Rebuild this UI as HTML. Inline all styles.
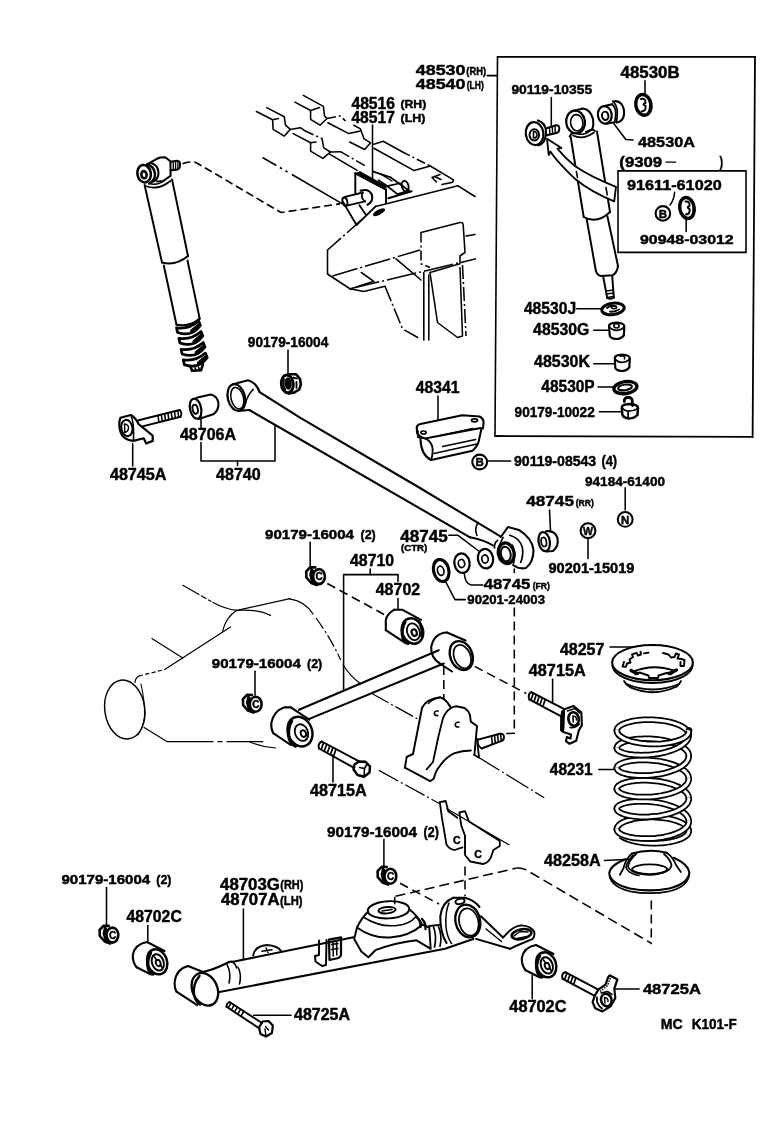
<!DOCTYPE html>
<html><head><meta charset="utf-8"><title>Rear suspension parts diagram</title>
<style>
html,body{margin:0;padding:0;background:#fff}
svg{display:block;filter:grayscale(1)}
text{font-family:"Liberation Sans",sans-serif;font-weight:bold;fill:#000;stroke:#000;stroke-width:0.45;stroke-linejoin:round}
.a{fill:none;stroke:#000;stroke-width:1.55;stroke-linecap:round;stroke-linejoin:round}
</style></head><body>
<svg width="776" height="1124" viewBox="0 0 776 1124">
<rect width="776" height="1124" fill="#fff"/>
<g class="a">
<text x="415.8" y="75.2" font-size="15.0" textLength="49.7" lengthAdjust="spacingAndGlyphs">48530</text>
<text x="466.3" y="74.9" font-size="10.4" textLength="19.7" lengthAdjust="spacingAndGlyphs">(RH)</text>
<text x="415.8" y="89.1" font-size="15.4" textLength="49.7" lengthAdjust="spacingAndGlyphs">48540</text>
<text x="466.8" y="88.7" font-size="10.4" textLength="16.9" lengthAdjust="spacingAndGlyphs">(LH)</text>
<text x="351.4" y="109.2" font-size="17.1" textLength="43.7" lengthAdjust="spacingAndGlyphs">48516</text>
<text x="400.5" y="108.4" font-size="11.7" textLength="25.7" lengthAdjust="spacingAndGlyphs">(RH)</text>
<text x="351.4" y="122.7" font-size="16.6" textLength="43.5" lengthAdjust="spacingAndGlyphs">48517</text>
<text x="400.5" y="121.9" font-size="11.7" textLength="25.0" lengthAdjust="spacingAndGlyphs">(LH)</text>
<text x="511.4" y="93.9" font-size="13.6" textLength="80.7" lengthAdjust="spacingAndGlyphs">90119-10355</text>
<text x="620.6" y="77.8" font-size="15.7" textLength="59.0" lengthAdjust="spacingAndGlyphs">48530B</text>
<text x="638.0" y="146.6" font-size="15.4" textLength="57.0" lengthAdjust="spacingAndGlyphs">48530A</text>
<text x="619.3" y="166.9" font-size="14.1" textLength="42.9" lengthAdjust="spacingAndGlyphs">(9309</text>
<line x1="666.0" y1="162.2" x2="675.7" y2="162.2" stroke-width="1.30"/>
<text x="719.6" y="166.9" font-size="14.1" textLength="3.6" lengthAdjust="spacingAndGlyphs">)</text>
<text x="627.0" y="189.9" font-size="14.3" textLength="94.7" lengthAdjust="spacingAndGlyphs">91611-61020</text>
<text x="640.0" y="244.0" font-size="13.4" textLength="93.7" lengthAdjust="spacingAndGlyphs">90948-03012</text>
<text x="523.9" y="313.9" font-size="17.3" textLength="52.2" lengthAdjust="spacingAndGlyphs">48530J</text>
<text x="533.1" y="334.9" font-size="17.0" textLength="56.2" lengthAdjust="spacingAndGlyphs">48530G</text>
<text x="534.1" y="367.0" font-size="17.1" textLength="55.9" lengthAdjust="spacingAndGlyphs">48530K</text>
<text x="541.3" y="391.8" font-size="17.3" textLength="53.4" lengthAdjust="spacingAndGlyphs">48530P</text>
<text x="514.6" y="416.5" font-size="14.3" textLength="80.1" lengthAdjust="spacingAndGlyphs">90179-10022</text>
<text x="415.8" y="393.2" font-size="17.4" textLength="43.8" lengthAdjust="spacingAndGlyphs">48341</text>
<text x="514.0" y="466.3" font-size="14.9" textLength="82.2" lengthAdjust="spacingAndGlyphs">90119-08543</text>
<text x="601.4" y="466.3" font-size="14.9" textLength="15.7" lengthAdjust="spacingAndGlyphs">(4)</text>
<text x="585.0" y="485.9" font-size="13.4" textLength="80.0" lengthAdjust="spacingAndGlyphs">94184-61400</text>
<text x="526.2" y="506.1" font-size="15.4" textLength="47.8" lengthAdjust="spacingAndGlyphs">48745</text>
<text x="575.7" y="506.0" font-size="9.2" textLength="18.1" lengthAdjust="spacingAndGlyphs">(RR)</text>
<text x="548.5" y="572.9" font-size="14.0" textLength="85.9" lengthAdjust="spacingAndGlyphs">90201-15019</text>
<text x="400.3" y="541.5" font-size="15.6" textLength="47.4" lengthAdjust="spacingAndGlyphs">48745</text>
<text x="401.0" y="550.6" font-size="8.5" textLength="26.3" lengthAdjust="spacingAndGlyphs">(CTR)</text>
<text x="483.8" y="589.1" font-size="15.4" textLength="46.4" lengthAdjust="spacingAndGlyphs">48745</text>
<text x="532.7" y="588.9" font-size="9.2" textLength="17.3" lengthAdjust="spacingAndGlyphs">(FR)</text>
<text x="467.3" y="603.6" font-size="13.0" textLength="77.7" lengthAdjust="spacingAndGlyphs">90201-24003</text>
<text x="247.8" y="347.4" font-size="14.1" textLength="80.5" lengthAdjust="spacingAndGlyphs">90179-16004</text>
<text x="179.9" y="439.8" font-size="17.0" textLength="56.2" lengthAdjust="spacingAndGlyphs">48706A</text>
<text x="109.9" y="479.8" font-size="16.9" textLength="56.6" lengthAdjust="spacingAndGlyphs">48745A</text>
<text x="216.0" y="480.4" font-size="16.9" textLength="44.8" lengthAdjust="spacingAndGlyphs">48740</text>
<text x="265.0" y="538.7" font-size="13.4" textLength="89.0" lengthAdjust="spacingAndGlyphs">90179-16004</text>
<text x="360.5" y="538.7" font-size="13.4" textLength="15.2" lengthAdjust="spacingAndGlyphs">(2)</text>
<text x="350.0" y="565.8" font-size="16.9" textLength="44.2" lengthAdjust="spacingAndGlyphs">48710</text>
<text x="375.7" y="595.2" font-size="16.9" textLength="44.5" lengthAdjust="spacingAndGlyphs">48702</text>
<text x="211.8" y="668.0" font-size="13.4" textLength="89.0" lengthAdjust="spacingAndGlyphs">90179-16004</text>
<text x="307.0" y="668.0" font-size="13.4" textLength="15.2" lengthAdjust="spacingAndGlyphs">(2)</text>
<text x="310.0" y="796.3" font-size="16.1" textLength="56.7" lengthAdjust="spacingAndGlyphs">48715A</text>
<text x="528.8" y="676.2" font-size="16.6" textLength="56.9" lengthAdjust="spacingAndGlyphs">48715A</text>
<text x="559.9" y="654.7" font-size="16.6" textLength="44.5" lengthAdjust="spacingAndGlyphs">48257</text>
<text x="549.8" y="774.6" font-size="17.0" textLength="42.9" lengthAdjust="spacingAndGlyphs">48231</text>
<text x="544.0" y="865.8" font-size="16.9" textLength="56.7" lengthAdjust="spacingAndGlyphs">48258A</text>
<text x="327.1" y="836.9" font-size="14.4" textLength="89.9" lengthAdjust="spacingAndGlyphs">90179-16004</text>
<text x="423.6" y="836.9" font-size="14.4" textLength="15.2" lengthAdjust="spacingAndGlyphs">(2)</text>
<text x="61.5" y="883.6" font-size="13.4" textLength="88.7" lengthAdjust="spacingAndGlyphs">90179-16004</text>
<text x="156.3" y="883.6" font-size="13.4" textLength="15.2" lengthAdjust="spacingAndGlyphs">(2)</text>
<text x="126.5" y="922.4" font-size="15.7" textLength="55.3" lengthAdjust="spacingAndGlyphs">48702C</text>
<text x="220.1" y="889.8" font-size="15.9" textLength="59.8" lengthAdjust="spacingAndGlyphs">48703G</text>
<text x="280.3" y="889.1" font-size="12.6" textLength="23.1" lengthAdjust="spacingAndGlyphs">(RH)</text>
<text x="220.9" y="905.3" font-size="15.7" textLength="58.7" lengthAdjust="spacingAndGlyphs">48707A</text>
<text x="280.1" y="904.8" font-size="12.6" textLength="22.4" lengthAdjust="spacingAndGlyphs">(LH)</text>
<text x="294.0" y="1019.8" font-size="15.7" textLength="56.0" lengthAdjust="spacingAndGlyphs">48725A</text>
<text x="509.3" y="1011.5" font-size="15.9" textLength="57.2" lengthAdjust="spacingAndGlyphs">48702C</text>
<text x="642.9" y="994.3" font-size="15.1" textLength="58.1" lengthAdjust="spacingAndGlyphs">48725A</text>
<text x="660.8" y="1029.1" font-size="15.4" textLength="22.0" lengthAdjust="spacingAndGlyphs">MC</text>
<text x="691.8" y="1029.1" font-size="15.4" textLength="45.0" lengthAdjust="spacingAndGlyphs">K101-F</text>
<path d="M497.2,56.8 L756,56.8 M494.6,436 L753.2,436.9" stroke-width="1.8" stroke-linecap="butt"/>
<path d="M497.5,56 L495,436.8" stroke-width="1.6" stroke-linecap="butt"/>
<path d="M755,56 L752.6,437.7" stroke-width="1.8" stroke-linecap="butt"/>
<line x1="487.1" y1="75.6" x2="497.5" y2="75.6"/>
<path d="M618,170.9 H746 V252.4 H618 Z" stroke-width="1.6" stroke-linejoin="miter"/>
<line x1="372.5" y1="125.0" x2="372.5" y2="180.0"/>
<line x1="551.3" y1="97.5" x2="551.3" y2="126.0"/>
<line x1="645.0" y1="80.8" x2="645.0" y2="94.2"/>
<path d="M613.4,123.0 L625.8,139.5 L633.0,140.0"/>
<path d="M674.6,192.3 Q674,200 670,205"/>
<line x1="686.2" y1="219.5" x2="686.2" y2="231.4"/>
<line x1="576.7" y1="308.7" x2="601.0" y2="308.7"/>
<line x1="593.8" y1="330.3" x2="608.2" y2="330.3"/>
<line x1="593.8" y1="363.7" x2="614.4" y2="363.7"/>
<line x1="598.0" y1="387.0" x2="613.4" y2="387.0"/>
<line x1="599.4" y1="411.8" x2="621.6" y2="411.8"/>
<line x1="438.0" y1="396.0" x2="438.0" y2="420.2"/>
<line x1="488.6" y1="461.0" x2="510.6" y2="461.0"/>
<line x1="625.2" y1="487.8" x2="625.2" y2="510.0"/>
<line x1="549.5" y1="510.0" x2="550.5" y2="530.7"/>
<line x1="588.0" y1="538.6" x2="588.0" y2="558.6"/>
<path d="M448.8,535.3 L458.0,535.3 L478.7,551.0"/>
<path d="M464.2,572.8 Q465,584 471,585 L482.8,585"/>
<path d="M445.3,581.0 L455.0,599.6 L465.3,599.6"/>
<line x1="288.0" y1="350.0" x2="288.0" y2="374.0"/>
<line x1="201.0" y1="412.5" x2="201.0" y2="427.5"/>
<path d="M201.0,442.5 L201.0,461.0 L275.0,461.0 L275.0,425.0"/>
<line x1="237.5" y1="461.0" x2="237.5" y2="465.5"/>
<line x1="132.7" y1="443.8" x2="132.7" y2="466.0"/>
<line x1="310.2" y1="542.3" x2="310.2" y2="568.0"/>
<line x1="370.2" y1="569.0" x2="370.2" y2="574.6"/>
<path d="M343.6,690.5 L343.6,574.6 L398.0,574.6 L398.0,581.4"/>
<line x1="398.0" y1="598.6" x2="398.0" y2="609.3"/>
<line x1="255.0" y1="671.3" x2="255.0" y2="695.3"/>
<line x1="333.0" y1="755.0" x2="333.0" y2="782.0"/>
<line x1="552.6" y1="679.3" x2="552.6" y2="702.5"/>
<line x1="610.0" y1="647.0" x2="634.0" y2="647.0"/>
<line x1="598.8" y1="769.5" x2="613.5" y2="769.5"/>
<line x1="604.4" y1="860.5" x2="628.9" y2="859.2"/>
<line x1="383.9" y1="839.6" x2="383.9" y2="865.4"/>
<line x1="106.5" y1="887.4" x2="106.5" y2="926.0"/>
<line x1="147.8" y1="925.5" x2="147.8" y2="941.7"/>
<line x1="243.4" y1="908.9" x2="243.4" y2="958.6"/>
<line x1="253.7" y1="1015.3" x2="291.0" y2="1015.3"/>
<line x1="532.2" y1="975.4" x2="532.2" y2="998.6"/>
<line x1="614.7" y1="989.0" x2="639.2" y2="989.0"/>
<ellipse cx="662.9" cy="213.4" rx="7.3" ry="7.3" stroke-width="2.08"/>
<text x="662.9" y="217.5" font-size="11.5" text-anchor="middle">B</text>
<ellipse cx="479.7" cy="462.0" rx="7.4" ry="7.4" stroke-width="2.08"/>
<text x="479.7" y="466.1" font-size="11.5" text-anchor="middle">B</text>
<ellipse cx="625.2" cy="519.4" rx="7.4" ry="7.4" stroke-width="2.08"/>
<text x="625.2" y="523.5" font-size="11.5" text-anchor="middle">N</text>
<ellipse cx="588.0" cy="530.7" rx="7.4" ry="7.4" stroke-width="2.08"/>
<text x="588.0" y="534.5" font-size="10.5" text-anchor="middle">W</text>
<ellipse cx="144.1" cy="173.7" rx="6.7" ry="8.8" stroke-width="2.60" transform="rotate(-10 144.1 173.7)"/>
<ellipse cx="144.0" cy="174.7" rx="2.6" ry="3.6" stroke-width="2.60" transform="rotate(-10 144.0 174.7)"/>
<path d="M147,164.5 Q154,166 155,174 Q155,181 149,183.5" stroke-width="2.34"/>
<path d="M151,163 Q158,165 158.5,172.5 Q158.5,179 153.5,181.5" stroke-width="2.08"/>
<path d="M147,164.5 L156,159.3 L160,157.5 L165.2,157.2 L170.4,161.3 L170.6,175.8 L163,181 L157,181.5" stroke-width="2.08"/>
<path d="M170.8,161.8 L177,160.8 Q180.3,161 180,165 Q180,169 177,169.6 L170.8,170.3" stroke-width="2.08"/>
<line x1="173.3" y1="161.4" x2="173.3" y2="170.0" stroke-width="1.30"/>
<line x1="175.6" y1="161.0" x2="175.6" y2="169.8" stroke-width="1.30"/>
<line x1="177.9" y1="161.0" x2="177.9" y2="169.4" stroke-width="1.30"/>
<path d="M145.6,186 Q158,191 170.4,181" stroke-width="1.82"/>
<path d="M149,183.5 Q158,186 165,180" stroke-width="1.56"/>
<line x1="144.6" y1="185.0" x2="162.0" y2="262.5" stroke-width="1.95"/>
<line x1="172.0" y1="179.4" x2="188.0" y2="256.0" stroke-width="1.95"/>
<path d="M162,262.5 Q176,266 188,256" stroke-width="1.95"/>
<line x1="163.8" y1="265.5" x2="176.5" y2="324.7" stroke-width="1.95"/>
<line x1="187.5" y1="260.5" x2="199.7" y2="318.6" stroke-width="1.95"/>
<path d="M176.5,324.7 Q190,327 199.7,318.6" stroke-width="2.08"/>
<path d="M176.5,327.8 Q189.1,329.6 198.6,321.0 L200.4,325.5 Q191.6,337.5 177.5,332.5 Z" stroke-width="2.73" fill="#fff"/>
<path d="M191.6,330.9 L198.7,324.9" stroke-width="3.12"/>
<path d="M178.9,338.3 Q191.5,340.1 201.0,331.5 L202.8,336.0 Q194.0,348.0 179.9,343.0 Z" stroke-width="2.73" fill="#fff"/>
<path d="M194.0,341.4 L201.1,335.4" stroke-width="3.12"/>
<path d="M181.1,349.3 Q193.7,351.1 203.2,342.5 L205.0,347.0 Q196.2,359.0 182.1,354.0 Z" stroke-width="2.73" fill="#fff"/>
<path d="M196.2,352.4 L203.3,346.4" stroke-width="3.12"/>
<path d="M183.3,359.9 Q195.9,361.7 205.4,353.1 L207.2,357.6 Q198.4,369.6 184.3,364.6 Z" stroke-width="2.73" fill="#fff"/>
<path d="M198.4,363.0 L205.5,357.0" stroke-width="3.12"/>
<path d="M190.5,366.5 L192,370.8 L201,370.3 L203,364" stroke-width="2.60"/>
<line x1="195.0" y1="367.5" x2="196.0" y2="370.5" stroke-width="1.69"/>
<line x1="198.5" y1="367.0" x2="199.5" y2="370.3" stroke-width="1.69"/>
<path d="M182.5,163.8 Q190,161 196,162.5 L281,212.5 L340,203.8" stroke-width="1.69" stroke-dasharray="8 4" stroke-linecap="butt"/>
<path d="M303.3,95.4 L323.4,106.4 L324.5,116.0 L327.0,118.5"/>
<path d="M294.9,102.1 L310.6,110.5 L319.5,107.6"/>
<path d="M310.6,110.5 L310.6,119.3 L320.0,125.2 L327.0,118.5"/>
<path d="M327.0,118.5 L340.4,116.0 L345.5,121.0" stroke-dasharray="9 3 2 3" stroke-linecap="butt"/>
<path d="M327.9,122.7 L348.8,133.6 L360.5,131.0"/>
<path d="M353.8,125.2 L360.5,128.9 L363.9,138.6 L370.6,142.8 L364.7,149.5 L349.7,142.0"/>
<path d="M266.7,107.6 L284.3,116.8 L285.5,125.2 L290.2,129.4"/>
<path d="M256.4,111.5 L272.6,119.8 L278.5,118.5"/>
<path d="M272.6,119.8 L273.1,129.4 L284.3,136.1 L290.2,129.4"/>
<path d="M290.2,129.4 L300.3,127.7 L305.3,131.0"/>
<path d="M305.3,131.0 L322.0,138.6" stroke-dasharray="9 3 2 3" stroke-linecap="butt"/>
<path d="M322.0,138.6 L323.7,147.8 L330.4,152.0 L340.5,151.7"/>
<path d="M340.5,151.7 L367.3,167.0" stroke-dasharray="10 3 2 3" stroke-linecap="butt"/>
<path d="M293.2,133.6 L310.6,142.8 L316.0,142.0"/>
<path d="M310.6,142.8 L310.6,151.2 L322.9,158.4 L330.4,152.0"/>
<line x1="328.7" y1="153.7" x2="357.2" y2="170.4"/>
<line x1="262.5" y1="157.5" x2="342.5" y2="203.8" stroke-dasharray="16 4 2.5 4 2.5 5 100" stroke-linecap="butt"/>
<path d="M373.9,144.3 L383.2,141.2 L401.7,151.5"/>
<line x1="401.7" y1="151.5" x2="430.3" y2="166.0" stroke-dasharray="9 3 2 3" stroke-linecap="butt"/>
<path d="M430.3,166.0 L453.5,179.9 L452.7,182.2 L441.9,184.5"/>
<path d="M373.9,148.2 L414.1,170.6 L430.3,166.0"/>
<path d="M440.0,174.5 L432.0,177.5 L436.5,182.0" stroke-width="1.56"/>
<line x1="434.5" y1="176.5" x2="441.0" y2="179.5" stroke-width="1.56"/>
<path d="M355.3,173.3 L386,189.6 L386,203" stroke-width="1.95"/>
<path d="M355.3,173.3 L355.3,193" stroke-width="1.95"/>
<path d="M355.5,173.5 L385.8,189.6 L385.8,186.4 L360,171.8 Z" stroke-width="1.30" fill="#000"/>
<path d="M344.9,196.9 L362.8,192.5 M346.6,205.6 L365.2,201.4" stroke-width="1.95"/>
<ellipse cx="344.9" cy="201.6" rx="2.4" ry="4.2" stroke-width="1.95" transform="rotate(-12 344.9 201.6)"/>
<path d="M360.5,190.7 Q369,188 372,195 Q373.5,202 367.5,204.7" stroke-width="2.08"/>
<path d="M362.8,192.5 Q360,198 365.2,201.4" stroke-width="1.69"/>
<path d="M373.3,171.6 L390.7,177.4 L409.2,190.7 L397.6,194.2 L387.2,186.1 L378.5,180.3" stroke-width="1.82"/>
<path d="M387.2,186.1 L400.0,183.2" stroke-width="1.69"/>
<path d="M388.4,198.3 L411.6,191.3" stroke-width="2.08"/>
<ellipse cx="405.2" cy="186.1" rx="3.3" ry="5.3" stroke-width="1.95" transform="rotate(-15 405.2 186.1)"/>
<line x1="380.5" y1="174.0" x2="392.0" y2="181.0" stroke-width="1.43"/>
<line x1="343.0" y1="202.0" x2="356.5" y2="225.0" stroke-width="1.82"/>
<line x1="359.4" y1="205.2" x2="365.7" y2="214.5" stroke-width="1.82"/>
<line x1="356.5" y1="225.0" x2="375.6" y2="206.4" stroke-width="1.82"/>
<ellipse cx="379.0" cy="212.2" rx="6.0" ry="1.9" stroke-width="1.30" fill="#000" transform="rotate(-28 379.0 212.2)"/>
<line x1="375.6" y1="206.4" x2="458.0" y2="185.8"/>
<line x1="458.0" y1="185.8" x2="475.0" y2="196.5"/>
<line x1="362.0" y1="219.5" x2="327.5" y2="250.0" stroke-dasharray="20 3 2 3" stroke-linecap="butt"/>
<line x1="327.5" y1="250.0" x2="327.5" y2="274.0"/>
<line x1="327.5" y1="274.0" x2="351.0" y2="289.5"/>
<line x1="350.0" y1="288.8" x2="476.0" y2="258.8" stroke-dasharray="30 3 2 3" stroke-linecap="butt"/>
<line x1="332.5" y1="276.0" x2="420.0" y2="250.0" stroke-dasharray="26 3 2 3" stroke-linecap="butt"/>
<path d="M361.3,272.5 L373.8,281.3 L356.3,287.0"/>
<path d="M350.0,288.8 L363.8,291.5 L385.0,286.3"/>
<path d="M385.0,286.3 L402.5,328.8 L420.0,338.8" stroke-dasharray="16 3 2 3" stroke-linecap="butt"/>
<path d="M421,232.5 L460,222.5 Q463,222 463.2,225 L465,252.5 L460,256 L460,263.8 L430,272.5"/>
<path d="M421,232.5 L421,263.8 L430,267.5" stroke-dasharray="10 3 2 3" stroke-linecap="butt"/>
<line x1="466.0" y1="236.0" x2="475.0" y2="234.5"/>
<path d="M430.0,272.5 L437.5,322.5 L457.5,337.5 L462.5,336.0 L460.0,267.5"/>
<line x1="423.8" y1="272.5" x2="423.8" y2="340.0"/>
<line x1="428.8" y1="275.0" x2="428.8" y2="340.0"/>
<line x1="462.5" y1="265.0" x2="466.0" y2="336.0" stroke-dasharray="14 3 2 3" stroke-linecap="butt"/>
<line x1="396.0" y1="258.8" x2="421.0" y2="280.0"/>
<ellipse cx="534.6" cy="133.6" rx="8.8" ry="11.5" stroke-width="2.21" transform="rotate(-8 534.6 133.6)"/>
<path d="M538,120.5 Q546.5,123 546,133 Q545.5,143.5 538.5,145.3" stroke-width="2.21"/>
<ellipse cx="534.3" cy="134.8" rx="4.8" ry="5.6" stroke-width="1.95"/>
<path d="M533.5,131.5 L533.5,138 M533.5,131.5 Q537.5,132 537,135.5 Q536.5,138 533.5,138" stroke-width="1.56"/>
<path d="M546.5,128.3 L556,125.3 Q559.5,125 559.3,128.8 Q559.3,132.3 556.5,133 L546.8,135.3" stroke-width="1.95"/>
<line x1="549.5" y1="127.4" x2="549.8" y2="134.6" stroke-width="1.43"/>
<line x1="552.3" y1="126.5" x2="552.6" y2="134.0" stroke-width="1.43"/>
<line x1="555.0" y1="125.8" x2="555.3" y2="133.3" stroke-width="1.43"/>
<ellipse cx="575.6" cy="122.0" rx="9.4" ry="11.4" stroke-width="2.21" transform="rotate(-8 575.6 122.0)"/>
<ellipse cx="576.8" cy="122.8" rx="6.2" ry="8.2" stroke-width="1.69" transform="rotate(-8 576.8 122.8)"/>
<path d="M574,110.7 L583,108.5 Q590.5,109.5 593,119 Q594,126 592,129.5 L586,132" stroke-width="2.08"/>
<path d="M569.6,136.5 Q571,133.5 573,133 M595,131 Q594,129.8 592,129.5" stroke-width="1.82"/>
<path d="M573,135.5 Q583,140.5 594,132.5" stroke-width="1.69"/>
<path d="M577,133.5 Q584,136 590,131" stroke-width="1.56"/>
<line x1="570.7" y1="137.0" x2="583.7" y2="217.0" stroke-width="1.95"/>
<line x1="597.0" y1="131.5" x2="610.0" y2="212.0" stroke-width="1.95"/>
<path d="M583.7,217 Q597,224.5 610,212" stroke-width="1.95"/>
<line x1="586.6" y1="218.6" x2="595.9" y2="271.0" stroke-width="1.95"/>
<line x1="607.4" y1="216.2" x2="618.0" y2="266.0" stroke-width="1.95"/>
<path d="M595.9,271 Q597,275 601,276 L612.4,275.3 Q617,273 618,266" stroke-width="1.95"/>
<path d="M603.2,276.5 L607.2,298 M612.2,276 L613.8,297.5" stroke-width="1.95"/>
<path d="M606,291 L613.5,290 M606.5,294 L613.7,293 M607,297.5 L613.8,296.5" stroke-width="1.56"/>
<path d="M607.2,298 Q610.5,300 613.8,297.5" stroke-width="1.69"/>
<path d="M616,186.8 Q591,177 574.8,166 Q565,158 557.4,148.6 L561.5,148 L547,138.7 L548.7,155 L550.4,151.5 Q556,160.5 574.8,178.7 Q592,192.5 614.2,201.3 Z" stroke-width="1.82" fill="#fff"/>
<line x1="576.3" y1="171.5" x2="577.5" y2="177.5" stroke-width="1.56"/>
<line x1="606.0" y1="187.5" x2="607.3" y2="195.0" stroke-width="1.56"/>
<ellipse cx="604.8" cy="114.9" rx="6.9" ry="8.8" stroke-width="2.21" transform="rotate(-8 604.8 114.9)"/>
<ellipse cx="605.2" cy="115.8" rx="3.2" ry="4.2" stroke-width="1.95" transform="rotate(-8 605.2 115.8)"/>
<path d="M603.5,106.2 L612,104.2 M606,123.7 L614.5,122.3" stroke-width="1.95"/>
<path d="M612,104.2 Q616,108 615.8,114 Q615.5,119.5 614.5,122.3" stroke-width="1.82"/>
<path d="M613,101.5 Q618,100 621.5,104 Q625.5,110 623.5,117 Q621.5,122 616.5,122.5" stroke-width="2.08"/>
<path d="M613,101.5 Q617.5,106 617.3,113 Q617,119.5 616.5,122.5" stroke-width="1.69"/>
<ellipse cx="643.4" cy="104.9" rx="7.6" ry="10.4" stroke-width="3.38" transform="rotate(-10 643.4 104.9)"/>
<path d="M641,99 Q646,98 645.5,103 Q641.5,104.5 645.5,106 Q646.5,111 641.5,111.5" stroke-width="1.95"/>
<path d="M648,97 Q651.5,104 648.5,113" stroke-width="1.69"/>
<ellipse cx="687.0" cy="208.0" rx="7.2" ry="10.6" stroke-width="3.38" transform="rotate(-10 687.0 208.0)"/>
<path d="M685.5,201.5 Q690,201 689.5,206 Q686,207.5 689.5,209 Q690.5,214 686,214.5" stroke-width="1.95"/>
<path d="M691.8,200.5 Q695,207.5 692,216" stroke-width="1.69"/>
<ellipse cx="613.0" cy="308.9" rx="11.3" ry="5.7" stroke-width="2.99" transform="rotate(-8 613.0 308.9)"/>
<path d="M607,308 Q611,304.5 616,306.5 M610,311.5 Q614,312.5 619,309.5" stroke-width="1.82"/>
<ellipse cx="614.0" cy="307.3" rx="2.5" ry="1.4" stroke-width="1.56"/>
<path d="M609,326.5 Q608.5,323 616.5,322.7 Q624.3,323 624.3,326.5 L623.8,335.5 Q621,339 616,339 Q611,338.5 609.8,336 Z" stroke-width="2.21"/>
<path d="M609,326.5 Q612,330.5 616.8,330.3 Q622,330 624.3,326.5" stroke-width="1.69"/>
<ellipse cx="616.5" cy="325.8" rx="2.6" ry="2.2" stroke-width="1.69"/>
<path d="M614.8,358.5 Q614.5,355 622,354.7 Q629.8,355 629.8,358.5 L629.3,367.5 Q626.5,371 621.5,371 Q616.5,370.5 615.3,368 Z" stroke-width="2.21"/>
<path d="M614.8,358.5 Q617.5,362.5 622.3,362.3 Q627.5,362 629.8,358.5" stroke-width="1.69"/>
<path d="M620,356.2 L624.5,355.7 L624.5,359" stroke-width="1.56"/>
<ellipse cx="625.4" cy="387.6" rx="11.6" ry="6.0" stroke-width="3.38" transform="rotate(-8 625.4 387.6)"/>
<ellipse cx="625.0" cy="387.4" rx="7.0" ry="2.8" stroke-width="1.95" transform="rotate(-8 625.0 387.4)"/>
<path d="M624.3,401.5 Q624,397.5 628.3,397.3 Q632.5,397.5 632.3,401.5 L632.5,405.5" stroke-width="2.86"/>
<path d="M621.8,407.5 Q622,404.2 629.5,404 Q637.8,404.3 638,408 L637.5,415 Q634,418.5 629,418.5 Q623.5,418 622.3,414.5 Z" stroke-width="2.47"/>
<path d="M621.8,407.5 Q625,411.5 630,411 Q635.5,410.5 638,408 M628,411.2 L628.2,418.3" stroke-width="1.69"/>
<path d="M289.5,374.2 L296,374.2 L300,379 L300.8,384.5 L299.3,389.5 L294,392.6 L288.5,393.4" stroke-width="2.60" fill="#fff"/>
<path d="M293.5,377.5 L297,378.5 M296.5,382 L296.5,388" stroke-width="1.82"/>
<ellipse cx="287.3" cy="383.9" rx="6.0" ry="8.9" stroke-width="2.86" fill="#fff" transform="rotate(-6 287.3 383.9)"/>
<ellipse cx="288.1" cy="383.6" rx="2.9" ry="5.6" stroke-width="1.30" fill="#000" transform="rotate(-6 288.1 383.6)"/>
<path d="M284,379 Q282.5,385 285.5,390" stroke-width="1.69"/>
<path d="M120.5,417.7 L130.8,415 Q136,418 138.5,424 L152.7,435.7 L152.7,440.9 L146.2,443.5 L143.7,438.3 L133.4,440.9 Q123,440 120.5,431.9 Q118,424 120.5,417.7 Z" stroke-width="2.21"/>
<ellipse cx="126.9" cy="428.0" rx="5.6" ry="8.2" stroke-width="2.08" transform="rotate(-10 126.9 428.0)"/>
<path d="M130.8,415 Q134.5,423 133.4,440.9" stroke-width="1.56"/>
<path d="M124.5,424 L124.8,432.5 M124.5,424 Q129,424.5 128.5,428.5 Q128,432 124.8,432.5" stroke-width="1.43"/>
<line x1="138.5" y1="420.3" x2="179.7" y2="410.0" stroke-width="1.95"/>
<line x1="141.5" y1="426.6" x2="180.6" y2="416.8" stroke-width="1.95"/>
<path d="M179.7,410 Q182.5,412.8 180.6,416.8" stroke-width="1.82"/>
<line x1="158.0" y1="415.4" x2="158.9" y2="422.0" stroke-width="1.56"/>
<line x1="161.3" y1="414.6" x2="162.2" y2="421.2" stroke-width="1.56"/>
<line x1="164.6" y1="413.8" x2="165.5" y2="420.4" stroke-width="1.56"/>
<line x1="167.9" y1="413.0" x2="168.8" y2="419.6" stroke-width="1.56"/>
<line x1="171.2" y1="412.2" x2="172.1" y2="418.8" stroke-width="1.56"/>
<line x1="174.5" y1="411.4" x2="175.4" y2="418.0" stroke-width="1.56"/>
<line x1="177.8" y1="410.5" x2="178.7" y2="417.1" stroke-width="1.56"/>
<ellipse cx="195.6" cy="408.7" rx="5.6" ry="10.2" stroke-width="2.21" transform="rotate(-12 195.6 408.7)"/>
<ellipse cx="195.2" cy="409.2" rx="2.6" ry="4.6" stroke-width="1.95" transform="rotate(-12 195.2 409.2)"/>
<path d="M196.5,397.8 L210.7,394.5 Q217.5,396 218.4,403 Q219,410.5 213.2,414.3 L199,419" stroke-width="2.08"/>
<ellipse cx="236.4" cy="397.6" rx="8.6" ry="13.6" stroke-width="2.21" transform="rotate(-14 236.4 397.6)"/>
<ellipse cx="237.3" cy="398.2" rx="6.2" ry="11.0" stroke-width="1.56" transform="rotate(-14 237.3 398.2)"/>
<path d="M233,384.3 L248,380.3 Q256,382.5 259.6,391.9" stroke-width="2.08"/>
<path d="M253.2,389.3 Q247,396 245.5,403.5" stroke-width="1.56"/>
<path d="M259.6,392.2 L300.0,417.6 L420.0,488.0 L500.8,536.6" stroke-width="2.08"/>
<line x1="249.3" y1="410.0" x2="470.0" y2="537.3" stroke-width="2.08"/>
<path d="M240.5,410.8 L249.3,410" stroke-width="1.95"/>
<path d="M470,537.3 Q484,540 493,545.5" stroke-width="1.95"/>
<path d="M478,522.5 Q474,529 477,535.5" stroke-width="1.56"/>
<path d="M500.8,537 L508,527 L518.9,529.9 Q532,538 533.5,550 Q533.5,562 526,568 Q519,569.5 513,565" stroke-width="2.08"/>
<path d="M509.8,535.3 Q520,538 522.5,548 Q523.5,556 520.7,562.3" stroke-width="1.69"/>
<path d="M497.5,540.5 Q494,543 494.5,548 M503,537.5 L499.5,545" stroke-width="1.69"/>
<ellipse cx="506.2" cy="553.3" rx="7.8" ry="10.4" stroke-width="3.25" transform="rotate(-12 506.2 553.3)"/>
<ellipse cx="505.8" cy="554.0" rx="4.8" ry="7.4" stroke-width="1.95" transform="rotate(-12 505.8 554.0)"/>
<path d="M512,545 Q516,552 513.5,563" stroke-width="1.95"/>
<ellipse cx="485.5" cy="558.7" rx="7.6" ry="9.8" stroke-width="2.21" transform="rotate(-10 485.5 558.7)"/>
<ellipse cx="485.0" cy="559.0" rx="3.2" ry="4.1" stroke-width="1.69" transform="rotate(-10 485.0 559.0)"/>
<ellipse cx="462.0" cy="563.2" rx="7.6" ry="9.8" stroke-width="2.21" transform="rotate(-10 462.0 563.2)"/>
<ellipse cx="461.5" cy="563.5" rx="3.2" ry="4.1" stroke-width="1.69" transform="rotate(-10 461.5 563.5)"/>
<ellipse cx="441.2" cy="570.5" rx="7.6" ry="11.2" stroke-width="3.12" transform="rotate(-14 441.2 570.5)"/>
<ellipse cx="440.7" cy="570.8" rx="3.2" ry="4.7" stroke-width="1.69" transform="rotate(-14 440.7 570.8)"/>
<path d="M546,531.3 Q555,530 557.5,538 Q559,546 553,551 L546.5,551.5" stroke-width="2.08"/>
<ellipse cx="544.2" cy="541.6" rx="5.6" ry="9.6" stroke-width="2.21" transform="rotate(-10 544.2 541.6)"/>
<ellipse cx="543.8" cy="542.0" rx="2.6" ry="4.6" stroke-width="1.69" transform="rotate(-10 543.8 542.0)"/>
<path d="M416.8,427 Q417.5,424.5 420.5,424 L462.2,415.3 L479.5,416.5 Q483.5,418.5 483.6,422.5 L483,428.5" stroke-width="2.08"/>
<path d="M416.8,427 L417,433.2 Q420,437.5 425,438.4 L480.7,428" stroke-width="2.08"/>
<path d="M420.5,439.4 Q421,455 431.2,460 L472.5,450.7 Q477.5,446 478.7,441.4 L481.5,428.5" stroke-width="2.08"/>
<path d="M425,438.4 Q436,443 431.2,460" stroke-width="1.82"/>
<line x1="440.5" y1="435.6" x2="472.5" y2="428.4" stroke-width="1.56"/>
<line x1="442.6" y1="446.6" x2="475.6" y2="439.4" stroke-width="1.56"/>
<line x1="434.0" y1="453.5" x2="477.0" y2="444.0" stroke-width="1.56"/>
<ellipse cx="423.5" cy="432.5" rx="2.6" ry="1.5" stroke-width="1.69"/>
<ellipse cx="474.5" cy="420.3" rx="3.0" ry="1.5" stroke-width="1.69"/>
<path d="M418,431 L418,437.5 L421.5,438" stroke-width="1.69"/>
<path d="M315.3,567.4 L310.3,567.2 L306.2,571.5 L306.4,577.5 L311.3,583.0 L316.8,585.0" stroke-width="2.60" fill="#fff"/>
<path d="M311.3,568.5 Q314.8,570.0 314.0,577.0 Q313.8,581.0 316.3,584.0 L311.8,582.0 L309.8,575.0 Z" stroke-width="1.30" fill="#000"/>
<ellipse cx="319.0" cy="576.6" rx="5.9" ry="7.5" stroke-width="2.60" fill="#fff"/>
<text x="319.2" y="580.3" font-size="10" text-anchor="middle">C</text>
<line x1="327.3" y1="583.5" x2="384.0" y2="614.4" stroke-width="1.69" stroke-dasharray="9 5" stroke-linecap="butt"/>
<path d="M252.0,695.0 L247.0,694.8 L242.9,699.1 L243.1,705.1 L248.0,710.6 L253.5,712.6" stroke-width="2.60" fill="#fff"/>
<path d="M248.0,696.1 Q251.5,697.6 250.7,704.6 Q250.5,708.6 253.0,711.6 L248.5,709.6 L246.5,702.6 Z" stroke-width="1.30" fill="#000"/>
<ellipse cx="255.7" cy="704.2" rx="5.9" ry="7.5" stroke-width="2.60" fill="#fff"/>
<text x="255.9" y="707.9" font-size="10" text-anchor="middle">C</text>
<path d="M394.3,609.7 L402.1,609.7 L421,619.8 M385.8,630.2 L405.9,643.3" stroke-width="2.08"/>
<path d="M394.3,609.7 Q387,614 385.8,620 L385.8,630.2" stroke-width="2.08"/>
<ellipse cx="412.5" cy="631.0" rx="10.4" ry="13.0" stroke-width="2.47" transform="rotate(-20 412.5 631.0)"/>
<path d="M405,622 Q400.5,630 403,638.5 Q404.5,642 408,643.5" stroke-width="3.12"/>
<ellipse cx="413.4" cy="631.8" rx="6.2" ry="8.6" stroke-width="1.82" transform="rotate(-20 413.4 631.8)"/>
<ellipse cx="414.2" cy="632.6" rx="2.5" ry="3.4" stroke-width="2.08" transform="rotate(-20 414.2 632.6)"/>
<path d="M419,621.5 Q423,628 421.5,636" stroke-width="2.86"/>
<line x1="299.0" y1="709.8" x2="438.7" y2="650.2" stroke-width="2.08"/>
<line x1="309.3" y1="718.9" x2="443.8" y2="663.5" stroke-width="2.08"/>
<path d="M290.8,707.4 L309.3,719.7 M273.2,733.1 L290.8,745" stroke-width="2.08"/>
<path d="M290.8,707.4 L284,707.4 Q273.5,711 271.3,723 Q270.8,729 273.2,733.1" stroke-width="2.08"/>
<ellipse cx="300.0" cy="731.6" rx="12.0" ry="15.2" stroke-width="2.47" transform="rotate(-22 300.0 731.6)"/>
<path d="M291.5,721 Q286.5,730 289.5,739.5 Q291.5,744 295.5,746" stroke-width="3.38"/>
<ellipse cx="301.5" cy="732.6" rx="6.4" ry="8.6" stroke-width="1.82" transform="rotate(-22 301.5 732.6)"/>
<ellipse cx="303.4" cy="733.6" rx="2.6" ry="3.4" stroke-width="1.95" transform="rotate(-22 303.4 733.6)"/>
<path d="M447,632.5 L465.5,640.5 M440.5,664 L452,671.5" stroke-width="2.08"/>
<path d="M447,632.5 Q434,633 431.2,647 Q430.5,658 440.5,664" stroke-width="2.08"/>
<ellipse cx="461.3" cy="655.6" rx="11.0" ry="15.0" stroke-width="2.34" transform="rotate(-22 461.3 655.6)"/>
<ellipse cx="462.3" cy="656.6" rx="8.2" ry="12.2" stroke-width="1.69" transform="rotate(-22 462.3 656.6)"/>
<line x1="321.7" y1="741.5" x2="358.7" y2="761.1" stroke-width="1.95"/>
<line x1="319.0" y1="748.5" x2="354.2" y2="767.9" stroke-width="1.95"/>
<path d="M321.7,741.5 Q317.5,743.5 319,748.5" stroke-width="1.95"/>
<line x1="323.6" y1="742.6" x2="321.4" y2="748.9" stroke-width="1.69"/>
<line x1="326.7" y1="744.2" x2="324.5" y2="750.5" stroke-width="1.69"/>
<line x1="329.8" y1="745.9" x2="327.6" y2="752.2" stroke-width="1.69"/>
<line x1="332.9" y1="747.6" x2="330.7" y2="753.9" stroke-width="1.69"/>
<line x1="336.0" y1="749.2" x2="333.8" y2="755.5" stroke-width="1.69"/>
<path d="M359,761.5 L365.5,761.8 L370,766.5 L369.5,772.5 L364,776.8 L357.5,775 L353.5,769.5 L354.5,764.5 Z" stroke-width="2.47"/>
<path d="M359.5,767.5 L364.5,768.5 L366.5,765 M364.5,768.5 L364,776.5" stroke-width="1.56"/>
<ellipse cx="124.8" cy="709.5" rx="20.0" ry="29.6" stroke-width="1.43" transform="rotate(-8 124.8 709.5)"/>
<path d="M141,684 Q145,702 144.5,716 Q143,728 138,735" stroke-width="1.10"/>
<path d="M135,682.4 Q135.5,677.5 139,676" stroke-width="1.23"/>
<line x1="139.0" y1="676.0" x2="164.7" y2="669.5" stroke-width="1.23" stroke-dasharray="4 2.5" stroke-linecap="butt"/>
<line x1="164.7" y1="669.5" x2="230.5" y2="627.0" stroke-width="1.23"/>
<line x1="151.9" y1="638.6" x2="182.8" y2="658.0" stroke-width="1.23"/>
<path d="M222.7,630.9 Q226,617 236.9,610.3 L290,598.7" stroke-width="1.23"/>
<line x1="182.8" y1="585.3" x2="199.0" y2="594.5" stroke-width="1.23"/>
<line x1="201.5" y1="596.0" x2="206.0" y2="598.5" stroke-width="1.23"/>
<line x1="208.5" y1="600.0" x2="211.0" y2="601.3" stroke-width="1.23"/>
<path d="M213,602.5 Q226,609.5 236.9,610.3 Q258,609 270.4,615.4" stroke-width="1.23"/>
<path d="M289.5,598.8 Q305,601 313,614" stroke-width="1.23"/>
<path d="M316,618 Q330,637 340.7,660" stroke-width="1.23" stroke-dasharray="13 3 2 3" stroke-linecap="butt"/>
<path d="M343,664.7 Q350,676 360.8,684" stroke-width="1.23"/>
<path d="M144.1,727.5 L167.3,741.7 L213,741.7" stroke-width="1.23"/>
<line x1="218.0" y1="741.7" x2="222.0" y2="741.7" stroke-width="1.23"/>
<line x1="227.0" y1="741.7" x2="262.7" y2="741.7" stroke-width="1.23"/>
<path d="M250,742 Q262,747 275.6,748" stroke-width="1.23"/>
<line x1="371.0" y1="693.0" x2="417.5" y2="718.9" stroke-width="1.23" stroke-dasharray="20 3 2 3" stroke-linecap="butt"/>
<line x1="378.9" y1="770.4" x2="439.3" y2="803.5" stroke-width="1.23" stroke-dasharray="22 3 2 3" stroke-linecap="butt"/>
<line x1="447.0" y1="808.7" x2="508.9" y2="844.7" stroke-width="1.23"/>
<line x1="477.3" y1="756.6" x2="544.3" y2="797.8" stroke-width="1.23" stroke-dasharray="26 3 2 3" stroke-linecap="butt"/>
<line x1="514.3" y1="569.0" x2="514.3" y2="572.5"/>
<line x1="514.3" y1="607.5" x2="514.3" y2="732.0" stroke-dasharray="9 5" stroke-linecap="butt"/>
<line x1="514.3" y1="733.2" x2="507.0" y2="733.6"/>
<line x1="443.8" y1="666.0" x2="443.8" y2="699.0" stroke-dasharray="9 5" stroke-linecap="butt"/>
<line x1="474.7" y1="666.4" x2="526.3" y2="693.5" stroke-dasharray="9 5" stroke-linecap="butt"/>
<path d="M404.9,767.6 L406.7,756.8 L413,754 L422,708 Q426,699 440,697.2 L443.7,699 Q448,702 451,708" stroke-width="1.95"/>
<path d="M451,708 Q453,706.5 456.4,706.2 L464.5,708 Q468.5,710.5 470,715.3 L470.8,721.6 L477,726 L474.4,755" stroke-width="1.95"/>
<path d="M451,708 Q445,712 442.8,718.9 L438.3,737 L433,762 L426.6,769.4" stroke-width="1.82"/>
<path d="M404.9,767.6 L430.2,781.2 L433.8,778.4 Q436,770 440,765.8 Q446,757 454.6,753.2 Q462,750.5 470.8,750.5" stroke-width="1.95"/>
<path d="M428.4,703.5 Q433,698.5 440,697.5" stroke-width="1.43"/>
<path d="M477,738.7 L479,757.7 L474.4,755" stroke-width="1.82"/>
<path d="M438.2,711 Q434.5,710.5 434.3,713.5 Q434.8,716 437.8,715.6" stroke-width="1.56"/>
<path d="M459,722.3 Q455.5,721.8 455.2,724.8 Q455.7,727.3 458.8,727" stroke-width="1.56"/>
<path d="M478,739.6 L500,733.8 Q504,733.5 504,737 Q504,740.5 501,741.2 L481.6,748.5" stroke-width="1.95"/>
<line x1="491.5" y1="735.8" x2="492.3" y2="743.8" stroke-width="1.56"/>
<line x1="494.5" y1="735.0" x2="495.3" y2="742.9" stroke-width="1.56"/>
<line x1="497.5" y1="734.3" x2="498.3" y2="742.0" stroke-width="1.56"/>
<line x1="500.5" y1="733.5" x2="501.3" y2="741.1" stroke-width="1.56"/>
<path d="M478,739.6 Q476.5,745 481.6,748.5" stroke-width="1.56"/>
<line x1="531.3" y1="692.2" x2="564.3" y2="709.2" stroke-width="1.95"/>
<line x1="529.3" y1="699.4" x2="561.2" y2="716.4" stroke-width="1.95"/>
<path d="M531.3,692.2 Q527.5,694 529.3,699.4" stroke-width="1.95"/>
<line x1="533.2" y1="693.2" x2="531.2" y2="699.4" stroke-width="1.69"/>
<line x1="536.2" y1="694.8" x2="534.2" y2="701.0" stroke-width="1.69"/>
<line x1="539.2" y1="696.3" x2="537.2" y2="702.5" stroke-width="1.69"/>
<line x1="542.2" y1="697.9" x2="540.2" y2="704.1" stroke-width="1.69"/>
<line x1="545.2" y1="699.4" x2="543.2" y2="705.6" stroke-width="1.69"/>
<path d="M564.3,709.2 L573.6,706.1 L581.3,712.3 L581.9,725.2 L578.8,730.4 L576.2,740.7 L569.5,743.8 L565.9,741.2 L566.9,737 L570.5,738.6 L571,734.5 L563.3,731.9 L561.2,730.4 L561.2,715.9 Z" stroke-width="2.08"/>
<path d="M563,712 L562.3,729.5" stroke-width="4.16"/>
<ellipse cx="573.6" cy="719.0" rx="5.2" ry="6.8" stroke-width="2.60" transform="rotate(-8 573.6 719.0)"/>
<path d="M567.5,711 L575,708.5 L579.5,713" stroke-width="1.56"/>
<path d="M573,716 L573.2,722 M573,716 Q577,716.5 576.5,720" stroke-width="1.56"/>
<path d="M570,727.5 Q575,728.5 579.5,724" stroke-width="1.56"/>
<ellipse cx="652.5" cy="662.6" rx="40.4" ry="17.6" stroke-width="2.08"/>
<path d="M612.3,665.5 Q614,676 634,681 Q652.5,685 671,681 Q691,676 692.7,665.5" stroke-width="1.82"/>
<path d="M624,681 Q626,685 630.5,687.4 M681,681 Q679.5,684.5 676.6,686.5" stroke-width="1.82"/>
<path d="M626.5,684 Q652.5,695 679,684" stroke-width="1.82"/>
<path d="M630.5,687.4 Q654,697.5 676.6,686.5" stroke-width="1.82"/>
<path d="M624,662 L622.5,666.5 L626,666.8 L627,663.5 L630.5,662.5 L629.5,659.5 L633,657 L632,654.5 L636.5,652.8 L638,655.5 L641,654.5 L640.5,651.8" stroke-width="1.95"/>
<path d="M644,653.3 L648.5,652.6" stroke-width="1.82"/>
<path d="M663,653 L668.5,654.5 L671,657.5 L674.5,657 L676,653.5 L679,654.5 L677.5,658.5 L681.5,659 L684.5,660 L684,666 L680.5,666 L680.5,662" stroke-width="1.95"/>
<path d="M632.6,671.8 Q653.2,663 675.2,671" stroke-width="1.95"/>
<path d="M632.6,671.8 L636,674.5 L639.5,672.5 L648.5,675.5 L649,678 L658,678 L658.5,675.5 L667.5,672.8 L670.5,674.5 L675.2,671" stroke-width="1.95"/>
<path d="M631,670.5 L637.5,673.5 M669,673.5 L676.5,670" stroke-width="3.38"/>
<path d="M616.9,731.3 L616.8,730.3 L617.0,729.3 L617.4,728.4 L618.0,727.5 L618.9,726.6 L620.0,725.7 L621.4,724.9 L622.9,724.1 L624.6,723.4 L626.6,722.7 L628.7,722.1 L630.9,721.5 L633.3,721.0 L635.9,720.6 L638.5,720.2 L641.2,720.0 L644.1,719.8 L646.9,719.7 L649.9,719.7 L652.8,719.8 L655.7,719.9 L658.7,720.2 L661.5,720.5 L664.4,720.9 L667.1,721.4 L669.7,722.0 L672.3,722.6 L674.7,723.4 L676.9,724.2 L679.0,725.0 L681.0,725.9 L682.7,726.9 L684.2,727.9 L685.6,729.0 L686.7,730.1 L687.6,731.2 L688.2,732.4 L688.6,733.6 L688.8,734.7 L688.7,736.1" stroke-width="6.5" stroke-linecap="butt"/>
<path d="M616.9,731.3 L616.8,730.3 L617.0,729.3 L617.4,728.4 L618.0,727.5 L618.9,726.6 L620.0,725.7 L621.4,724.9 L622.9,724.1 L624.6,723.4 L626.6,722.7 L628.7,722.1 L630.9,721.5 L633.3,721.0 L635.9,720.6 L638.5,720.2 L641.2,720.0 L644.1,719.8 L646.9,719.7 L649.9,719.7 L652.8,719.8 L655.7,719.9 L658.7,720.2 L661.5,720.5 L664.4,720.9 L667.1,721.4 L669.7,722.0 L672.3,722.6 L674.7,723.4 L676.9,724.2 L679.0,725.0 L681.0,725.9 L682.7,726.9 L684.2,727.9 L685.6,729.0 L686.7,730.1 L687.6,731.2 L688.2,732.4 L688.6,733.6 L688.8,734.7 L688.7,736.1" stroke="#fff" stroke-width="3.0" stroke-linecap="butt"/>
<path d="M616.9,748.6 L616.8,747.8 L617.0,747.0 L617.4,746.1 L618.0,745.3 L618.9,744.5 L620.0,743.7 L621.4,743.0 L622.9,742.3 L624.6,741.6 L626.6,741.0 L628.7,740.5 L630.9,740.0 L633.3,739.6 L635.9,739.3 L638.5,739.0 L641.2,738.9 L644.1,738.8 L646.9,738.8 L649.9,738.8 L652.8,739.0 L655.7,739.3 L658.7,739.6 L661.5,740.0 L664.4,740.5 L667.1,741.1 L669.7,741.8 L672.3,742.5 L674.7,743.3 L676.9,744.2 L679.0,745.2 L681.0,746.2 L682.7,747.3 L684.2,748.4 L685.6,749.5 L686.7,750.7 L687.6,751.9 L688.2,753.2 L688.6,754.4 L688.8,755.7 L688.7,757.1" stroke-width="6.5" stroke-linecap="butt"/>
<path d="M616.9,748.6 L616.8,747.8 L617.0,747.0 L617.4,746.1 L618.0,745.3 L618.9,744.5 L620.0,743.7 L621.4,743.0 L622.9,742.3 L624.6,741.6 L626.6,741.0 L628.7,740.5 L630.9,740.0 L633.3,739.6 L635.9,739.3 L638.5,739.0 L641.2,738.9 L644.1,738.8 L646.9,738.8 L649.9,738.8 L652.8,739.0 L655.7,739.3 L658.7,739.6 L661.5,740.0 L664.4,740.5 L667.1,741.1 L669.7,741.8 L672.3,742.5 L674.7,743.3 L676.9,744.2 L679.0,745.2 L681.0,746.2 L682.7,747.3 L684.2,748.4 L685.6,749.5 L686.7,750.7 L687.6,751.9 L688.2,753.2 L688.6,754.4 L688.8,755.7 L688.7,757.1" stroke="#fff" stroke-width="3.0" stroke-linecap="butt"/>
<path d="M616.9,768.6 L616.8,767.8 L617.0,767.0 L617.4,766.3 L618.0,765.5 L618.9,764.8 L620.0,764.1 L621.4,763.4 L622.9,762.8 L624.6,762.2 L626.6,761.7 L628.7,761.2 L630.9,760.8 L633.3,760.5 L635.9,760.2 L638.5,760.1 L641.2,760.0 L644.1,759.9 L646.9,760.0 L649.9,760.2 L652.8,760.4 L655.7,760.7 L658.7,761.1 L661.5,761.6 L664.4,762.2 L667.1,762.9 L669.7,763.6 L672.3,764.4 L674.7,765.3 L676.9,766.3 L679.0,767.3 L681.0,768.4 L682.7,769.5 L684.2,770.7 L685.6,771.9 L686.7,773.2 L687.6,774.5 L688.2,775.8 L688.6,777.1 L688.8,778.5 L688.7,779.8" stroke-width="6.5" stroke-linecap="butt"/>
<path d="M616.9,768.6 L616.8,767.8 L617.0,767.0 L617.4,766.3 L618.0,765.5 L618.9,764.8 L620.0,764.1 L621.4,763.4 L622.9,762.8 L624.6,762.2 L626.6,761.7 L628.7,761.2 L630.9,760.8 L633.3,760.5 L635.9,760.2 L638.5,760.1 L641.2,760.0 L644.1,759.9 L646.9,760.0 L649.9,760.2 L652.8,760.4 L655.7,760.7 L658.7,761.1 L661.5,761.6 L664.4,762.2 L667.1,762.9 L669.7,763.6 L672.3,764.4 L674.7,765.3 L676.9,766.3 L679.0,767.3 L681.0,768.4 L682.7,769.5 L684.2,770.7 L685.6,771.9 L686.7,773.2 L687.6,774.5 L688.2,775.8 L688.6,777.1 L688.8,778.5 L688.7,779.8" stroke="#fff" stroke-width="3.0" stroke-linecap="butt"/>
<path d="M616.9,789.3 L616.8,788.5 L617.0,787.7 L617.4,786.9 L618.0,786.1 L618.9,785.4 L620.0,784.7 L621.4,784.0 L622.9,783.3 L624.6,782.7 L626.6,782.2 L628.7,781.7 L630.9,781.3 L633.3,780.9 L635.9,780.6 L638.5,780.4 L641.2,780.3 L644.1,780.3 L646.9,780.3 L649.9,780.4 L652.8,780.7 L655.7,781.0 L658.7,781.3 L661.5,781.8 L664.4,782.4 L667.1,783.0 L669.7,783.7 L672.3,784.5 L674.7,785.4 L676.9,786.3 L679.0,787.3 L681.0,788.4 L682.7,789.5 L684.2,790.7 L685.6,791.9 L686.7,793.1 L687.6,794.4 L688.2,795.7 L688.6,797.0 L688.8,798.3 L688.7,799.6" stroke-width="6.5" stroke-linecap="butt"/>
<path d="M616.9,789.3 L616.8,788.5 L617.0,787.7 L617.4,786.9 L618.0,786.1 L618.9,785.4 L620.0,784.7 L621.4,784.0 L622.9,783.3 L624.6,782.7 L626.6,782.2 L628.7,781.7 L630.9,781.3 L633.3,780.9 L635.9,780.6 L638.5,780.4 L641.2,780.3 L644.1,780.3 L646.9,780.3 L649.9,780.4 L652.8,780.7 L655.7,781.0 L658.7,781.3 L661.5,781.8 L664.4,782.4 L667.1,783.0 L669.7,783.7 L672.3,784.5 L674.7,785.4 L676.9,786.3 L679.0,787.3 L681.0,788.4 L682.7,789.5 L684.2,790.7 L685.6,791.9 L686.7,793.1 L687.6,794.4 L688.2,795.7 L688.6,797.0 L688.8,798.3 L688.7,799.6" stroke="#fff" stroke-width="3.0" stroke-linecap="butt"/>
<path d="M616.9,809.1 L616.8,808.3 L617.0,807.6 L617.4,806.9 L618.0,806.2 L618.9,805.5 L620.0,804.9 L621.4,804.3 L622.9,803.7 L624.6,803.2 L626.6,802.7 L628.7,802.3 L630.9,802.0 L633.3,801.7 L635.9,801.5 L638.5,801.4 L641.2,801.3 L644.1,801.4 L646.9,801.5 L649.9,801.7 L652.8,802.0 L655.7,802.4 L658.7,802.8 L661.5,803.4 L664.4,804.0 L667.1,804.8 L669.7,805.6 L672.3,806.4 L674.7,807.4 L676.9,808.4 L679.0,809.5 L681.0,810.6 L682.7,811.8 L684.2,813.1 L685.6,814.3 L686.7,815.7 L687.6,817.0 L688.2,818.4 L688.6,819.8 L688.8,821.2 L688.7,822.5" stroke-width="6.5" stroke-linecap="butt"/>
<path d="M616.9,809.1 L616.8,808.3 L617.0,807.6 L617.4,806.9 L618.0,806.2 L618.9,805.5 L620.0,804.9 L621.4,804.3 L622.9,803.7 L624.6,803.2 L626.6,802.7 L628.7,802.3 L630.9,802.0 L633.3,801.7 L635.9,801.5 L638.5,801.4 L641.2,801.3 L644.1,801.4 L646.9,801.5 L649.9,801.7 L652.8,802.0 L655.7,802.4 L658.7,802.8 L661.5,803.4 L664.4,804.0 L667.1,804.8 L669.7,805.6 L672.3,806.4 L674.7,807.4 L676.9,808.4 L679.0,809.5 L681.0,810.6 L682.7,811.8 L684.2,813.1 L685.6,814.3 L686.7,815.7 L687.6,817.0 L688.2,818.4 L688.6,819.8 L688.8,821.2 L688.7,822.5" stroke="#fff" stroke-width="3.0" stroke-linecap="butt"/>
<path d="M616.9,830.0 L616.8,829.1 L617.0,828.0 L617.4,827.0 L618.0,826.1 L618.9,825.1 L620.0,824.1 L621.4,823.2 L622.9,822.4 L624.6,821.6 L626.6,820.8 L628.7,820.1 L630.9,819.5 L633.3,818.9 L635.9,818.4 L638.5,818.0 L641.2,817.7 L644.1,817.4 L646.9,817.2 L649.9,817.1 L652.8,817.1 L655.7,817.2 L658.7,817.4 L661.5,817.7 L664.4,818.0 L667.1,818.4 L669.7,818.9 L672.3,819.5 L674.7,820.2 L676.9,820.9 L679.0,821.7 L681.0,822.5 L682.7,823.4 L684.2,824.4 L685.6,825.4 L686.7,826.4 L687.6,827.5 L688.2,828.5 L688.6,829.6 L688.8,830.7 L688.7,831.8" stroke-width="6.5" stroke-linecap="butt"/>
<path d="M616.9,830.0 L616.8,829.1 L617.0,828.0 L617.4,827.0 L618.0,826.1 L618.9,825.1 L620.0,824.1 L621.4,823.2 L622.9,822.4 L624.6,821.6 L626.6,820.8 L628.7,820.1 L630.9,819.5 L633.3,818.9 L635.9,818.4 L638.5,818.0 L641.2,817.7 L644.1,817.4 L646.9,817.2 L649.9,817.1 L652.8,817.1 L655.7,817.2 L658.7,817.4 L661.5,817.7 L664.4,818.0 L667.1,818.4 L669.7,818.9 L672.3,819.5 L674.7,820.2 L676.9,820.9 L679.0,821.7 L681.0,822.5 L682.7,823.4 L684.2,824.4 L685.6,825.4 L686.7,826.4 L687.6,827.5 L688.2,828.5 L688.6,829.6 L688.8,830.7 L688.7,831.8" stroke="#fff" stroke-width="3.0" stroke-linecap="butt"/>
<path d="M688.7,830.1 L688.8,831.1 L688.7,831.9 L688.4,832.8 L688.0,833.6 L687.4,834.5 L686.7,835.3 L685.7,836.1 L684.7,836.8 L683.5,837.6 L682.1,838.3 L680.6,839.0 L679.0,839.6 L677.2,840.2 L675.4,840.7 L673.4,841.2 L671.3,841.7 L669.2,842.1 L666.9,842.4 L664.6,842.7 L662.3,843.0 L659.9,843.1 L657.5,843.2 L655.0,843.3 L652.6,843.3 L650.1,843.2 L647.7,843.1 L645.3,842.9 L642.9,842.7 L640.5,842.4 L638.2,842.0 L636.0,841.6 L633.9,841.1 L631.8,840.6 L629.9,840.0 L628.1,839.4 L626.3,838.7 L624.7,838.0 L623.2,837.3 L621.9,836.5 L620.7,835.7" stroke-width="6.5" stroke-linecap="butt"/>
<path d="M688.7,830.1 L688.8,831.1 L688.7,831.9 L688.4,832.8 L688.0,833.6 L687.4,834.5 L686.7,835.3 L685.7,836.1 L684.7,836.8 L683.5,837.6 L682.1,838.3 L680.6,839.0 L679.0,839.6 L677.2,840.2 L675.4,840.7 L673.4,841.2 L671.3,841.7 L669.2,842.1 L666.9,842.4 L664.6,842.7 L662.3,843.0 L659.9,843.1 L657.5,843.2 L655.0,843.3 L652.6,843.3 L650.1,843.2 L647.7,843.1 L645.3,842.9 L642.9,842.7 L640.5,842.4 L638.2,842.0 L636.0,841.6 L633.9,841.1 L631.8,840.6 L629.9,840.0 L628.1,839.4 L626.3,838.7 L624.7,838.0 L623.2,837.3 L621.9,836.5 L620.7,835.7" stroke="#fff" stroke-width="3.0" stroke-linecap="butt"/>
<path d="M688.7,820.4 L688.8,821.8 L688.6,823.1 L688.2,824.3 L687.6,825.5 L686.7,826.8 L685.6,827.9 L684.2,829.1 L682.7,830.2 L681.0,831.3 L679.0,832.3 L676.9,833.2 L674.7,834.1 L672.3,834.9 L669.7,835.7 L667.1,836.3 L664.4,836.9 L661.5,837.4 L658.7,837.8 L655.7,838.2 L652.8,838.4 L649.9,838.6 L646.9,838.6 L644.1,838.6 L641.2,838.5 L638.5,838.3 L635.9,838.1 L633.3,837.8 L630.9,837.3 L628.7,836.9 L626.6,836.3 L624.6,835.7 L622.9,835.1 L621.4,834.4 L620.0,833.6 L618.9,832.8 L618.0,832.0 L617.4,831.2 L617.0,830.4 L616.8,829.5 L616.9,828.5" stroke-width="6.5" stroke-linecap="butt"/>
<path d="M688.7,820.4 L688.8,821.8 L688.6,823.1 L688.2,824.3 L687.6,825.5 L686.7,826.8 L685.6,827.9 L684.2,829.1 L682.7,830.2 L681.0,831.3 L679.0,832.3 L676.9,833.2 L674.7,834.1 L672.3,834.9 L669.7,835.7 L667.1,836.3 L664.4,836.9 L661.5,837.4 L658.7,837.8 L655.7,838.2 L652.8,838.4 L649.9,838.6 L646.9,838.6 L644.1,838.6 L641.2,838.5 L638.5,838.3 L635.9,838.1 L633.3,837.8 L630.9,837.3 L628.7,836.9 L626.6,836.3 L624.6,835.7 L622.9,835.1 L621.4,834.4 L620.0,833.6 L618.9,832.8 L618.0,832.0 L617.4,831.2 L617.0,830.4 L616.8,829.5 L616.9,828.5" stroke="#fff" stroke-width="3.0" stroke-linecap="butt"/>
<path d="M688.7,797.6 L688.8,798.9 L688.6,800.2 L688.2,801.5 L687.6,802.8 L686.7,804.1 L685.6,805.3 L684.2,806.5 L682.7,807.7 L681.0,808.8 L679.0,809.9 L676.9,810.9 L674.7,811.8 L672.3,812.7 L669.7,813.5 L667.1,814.2 L664.4,814.8 L661.5,815.4 L658.7,815.9 L655.7,816.2 L652.8,816.5 L649.9,816.8 L646.9,816.9 L644.1,816.9 L641.2,816.9 L638.5,816.8 L635.9,816.6 L633.3,816.3 L630.9,815.9 L628.7,815.5 L626.6,815.0 L624.6,814.5 L622.9,813.9 L621.4,813.2 L620.0,812.5 L618.9,811.8 L618.0,811.1 L617.4,810.3 L617.0,809.5 L616.8,808.7 L616.9,807.9" stroke-width="6.5" stroke-linecap="butt"/>
<path d="M688.7,797.6 L688.8,798.9 L688.6,800.2 L688.2,801.5 L687.6,802.8 L686.7,804.1 L685.6,805.3 L684.2,806.5 L682.7,807.7 L681.0,808.8 L679.0,809.9 L676.9,810.9 L674.7,811.8 L672.3,812.7 L669.7,813.5 L667.1,814.2 L664.4,814.8 L661.5,815.4 L658.7,815.9 L655.7,816.2 L652.8,816.5 L649.9,816.8 L646.9,816.9 L644.1,816.9 L641.2,816.9 L638.5,816.8 L635.9,816.6 L633.3,816.3 L630.9,815.9 L628.7,815.5 L626.6,815.0 L624.6,814.5 L622.9,813.9 L621.4,813.2 L620.0,812.5 L618.9,811.8 L618.0,811.1 L617.4,810.3 L617.0,809.5 L616.8,808.7 L616.9,807.9" stroke="#fff" stroke-width="3.0" stroke-linecap="butt"/>
<path d="M688.7,777.8 L688.8,779.1 L688.6,780.4 L688.2,781.7 L687.6,783.0 L686.7,784.3 L685.6,785.5 L684.2,786.7 L682.7,787.9 L681.0,789.0 L679.0,790.1 L676.9,791.1 L674.7,792.0 L672.3,792.9 L669.7,793.7 L667.1,794.4 L664.4,795.0 L661.5,795.6 L658.7,796.1 L655.7,796.4 L652.8,796.8 L649.9,797.0 L646.9,797.1 L644.1,797.1 L641.2,797.1 L638.5,797.0 L635.9,796.8 L633.3,796.5 L630.9,796.1 L628.7,795.7 L626.6,795.2 L624.6,794.7 L622.9,794.1 L621.4,793.4 L620.0,792.7 L618.9,792.0 L618.0,791.3 L617.4,790.5 L617.0,789.7 L616.8,788.9 L616.9,788.1" stroke-width="6.5" stroke-linecap="butt"/>
<path d="M688.7,777.8 L688.8,779.1 L688.6,780.4 L688.2,781.7 L687.6,783.0 L686.7,784.3 L685.6,785.5 L684.2,786.7 L682.7,787.9 L681.0,789.0 L679.0,790.1 L676.9,791.1 L674.7,792.0 L672.3,792.9 L669.7,793.7 L667.1,794.4 L664.4,795.0 L661.5,795.6 L658.7,796.1 L655.7,796.4 L652.8,796.8 L649.9,797.0 L646.9,797.1 L644.1,797.1 L641.2,797.1 L638.5,797.0 L635.9,796.8 L633.3,796.5 L630.9,796.1 L628.7,795.7 L626.6,795.2 L624.6,794.7 L622.9,794.1 L621.4,793.4 L620.0,792.7 L618.9,792.0 L618.0,791.3 L617.4,790.5 L617.0,789.7 L616.8,788.9 L616.9,788.1" stroke="#fff" stroke-width="3.0" stroke-linecap="butt"/>
<path d="M688.7,755.0 L688.8,756.3 L688.6,757.7 L688.2,759.1 L687.6,760.4 L686.7,761.7 L685.6,763.0 L684.2,764.3 L682.7,765.5 L681.0,766.7 L679.0,767.8 L676.9,768.8 L674.7,769.8 L672.3,770.7 L669.7,771.6 L667.1,772.4 L664.4,773.1 L661.5,773.7 L658.7,774.2 L655.7,774.6 L652.8,775.0 L649.9,775.3 L646.9,775.5 L644.1,775.5 L641.2,775.6 L638.5,775.5 L635.9,775.3 L633.3,775.1 L630.9,774.8 L628.7,774.5 L626.6,774.0 L624.6,773.5 L622.9,773.0 L621.4,772.4 L620.0,771.8 L618.9,771.1 L618.0,770.4 L617.4,769.7 L617.0,768.9 L616.8,768.2 L616.9,767.4" stroke-width="6.5" stroke-linecap="butt"/>
<path d="M688.7,755.0 L688.8,756.3 L688.6,757.7 L688.2,759.1 L687.6,760.4 L686.7,761.7 L685.6,763.0 L684.2,764.3 L682.7,765.5 L681.0,766.7 L679.0,767.8 L676.9,768.8 L674.7,769.8 L672.3,770.7 L669.7,771.6 L667.1,772.4 L664.4,773.1 L661.5,773.7 L658.7,774.2 L655.7,774.6 L652.8,775.0 L649.9,775.3 L646.9,775.5 L644.1,775.5 L641.2,775.6 L638.5,775.5 L635.9,775.3 L633.3,775.1 L630.9,774.8 L628.7,774.5 L626.6,774.0 L624.6,773.5 L622.9,773.0 L621.4,772.4 L620.0,771.8 L618.9,771.1 L618.0,770.4 L617.4,769.7 L617.0,768.9 L616.8,768.2 L616.9,767.4" stroke="#fff" stroke-width="3.0" stroke-linecap="butt"/>
<path d="M688.7,734.1 L688.8,735.3 L688.6,736.7 L688.2,738.1 L687.6,739.5 L686.7,740.8 L685.6,742.2 L684.2,743.4 L682.7,744.7 L681.0,745.9 L679.0,747.0 L676.9,748.1 L674.7,749.1 L672.3,750.1 L669.7,750.9 L667.1,751.7 L664.4,752.5 L661.5,753.1 L658.7,753.7 L655.7,754.1 L652.8,754.5 L649.9,754.8 L646.9,755.0 L644.1,755.1 L641.2,755.2 L638.5,755.1 L635.9,755.0 L633.3,754.8 L630.9,754.5 L628.7,754.2 L626.6,753.8 L624.6,753.3 L622.9,752.8 L621.4,752.2 L620.0,751.6 L618.9,751.0 L618.0,750.3 L617.4,749.6 L617.0,748.9 L616.8,748.2 L616.9,747.3" stroke-width="6.5" stroke-linecap="butt"/>
<path d="M688.7,734.1 L688.8,735.3 L688.6,736.7 L688.2,738.1 L687.6,739.5 L686.7,740.8 L685.6,742.2 L684.2,743.4 L682.7,744.7 L681.0,745.9 L679.0,747.0 L676.9,748.1 L674.7,749.1 L672.3,750.1 L669.7,750.9 L667.1,751.7 L664.4,752.5 L661.5,753.1 L658.7,753.7 L655.7,754.1 L652.8,754.5 L649.9,754.8 L646.9,755.0 L644.1,755.1 L641.2,755.2 L638.5,755.1 L635.9,755.0 L633.3,754.8 L630.9,754.5 L628.7,754.2 L626.6,753.8 L624.6,753.3 L622.9,752.8 L621.4,752.2 L620.0,751.6 L618.9,751.0 L618.0,750.3 L617.4,749.6 L617.0,748.9 L616.8,748.2 L616.9,747.3" stroke="#fff" stroke-width="3.0" stroke-linecap="butt"/>
<path d="M688.7,730.7 L688.8,731.7 L688.6,732.8 L688.2,733.8 L687.6,734.8 L686.7,735.8 L685.6,736.8 L684.2,737.7 L682.7,738.6 L681.0,739.4 L679.0,740.2 L676.9,740.9 L674.7,741.5 L672.3,742.1 L669.7,742.6 L667.1,743.1 L664.4,743.4 L661.5,743.7 L658.7,743.9 L655.7,744.0 L652.8,744.0 L649.9,743.9 L646.9,743.8 L644.1,743.5 L641.2,743.2 L638.5,742.8 L635.9,742.3 L633.3,741.8 L630.9,741.1 L628.7,740.4 L626.6,739.6 L624.6,738.8 L622.9,737.9 L621.4,737.0 L620.0,736.0 L618.9,735.0 L618.0,734.0 L617.4,732.9 L617.0,731.8 L616.8,730.8 L616.9,729.8" stroke-width="6.5" stroke-linecap="butt"/>
<path d="M688.7,730.7 L688.8,731.7 L688.6,732.8 L688.2,733.8 L687.6,734.8 L686.7,735.8 L685.6,736.8 L684.2,737.7 L682.7,738.6 L681.0,739.4 L679.0,740.2 L676.9,740.9 L674.7,741.5 L672.3,742.1 L669.7,742.6 L667.1,743.1 L664.4,743.4 L661.5,743.7 L658.7,743.9 L655.7,744.0 L652.8,744.0 L649.9,743.9 L646.9,743.8 L644.1,743.5 L641.2,743.2 L638.5,742.8 L635.9,742.3 L633.3,741.8 L630.9,741.1 L628.7,740.4 L626.6,739.6 L624.6,738.8 L622.9,737.9 L621.4,737.0 L620.0,736.0 L618.9,735.0 L618.0,734.0 L617.4,732.9 L617.0,731.8 L616.8,730.8 L616.9,729.8" stroke="#fff" stroke-width="3.0" stroke-linecap="butt"/>
<path d="M686.5,729.5 Q689,726.5 691.5,729.5 L691,734" stroke-width="1.82"/>
<path d="M625.5,859.2 Q610,865 609.2,873.4 Q611,884 630,888.5 Q649.6,892.3 669,888.5 Q688,884 689.4,872.7 Q688,864 673.8,857.8" stroke-width="2.08"/>
<path d="M609.5,876 Q612,887 630,891.3 Q649.6,895 669,891.3 Q687,887 689.2,875.3" stroke-width="1.69"/>
<path d="M632,853.5 Q649.5,848.5 666.7,852.8" stroke-width="1.95"/>
<path d="M632,853.5 Q626,858 623.4,868.4 L619.9,874.8" stroke-width="1.82"/>
<path d="M666.7,852.8 Q673,857 676,865 L680.9,872" stroke-width="1.82"/>
<path d="M636.5,853.5 Q629,860 628,866.5 Q630,872 640,873.5" stroke-width="1.82"/>
<path d="M633,855 Q626.5,862 626,867.5 Q628,873.5 639,875.5" stroke-width="1.56"/>
<path d="M664,854 Q671,860 671.5,865.5 Q670,871 661.5,873" stroke-width="1.82"/>
<ellipse cx="649.6" cy="869.3" rx="17.5" ry="4.9" stroke-width="1.95"/>
<path d="M632.5,870.5 Q649.6,879.5 667,870.5" stroke-width="1.56"/>
<line x1="651.3" y1="900.5" x2="651.3" y2="944.3" stroke-dasharray="9 5" stroke-linecap="butt"/>
<path d="M395.5,896.3 L516.6,868.0" stroke-dasharray="10 5" stroke-linecap="butt"/>
<path d="M516.6,868 Q523,867.5 528,871 L650.8,943" stroke-dasharray="10 5" stroke-linecap="butt"/>
<line x1="394.7" y1="897.4" x2="394.7" y2="903.8"/>
<path d="M439.8,802.2 L445.7,801 L448.3,811.2 L457.3,817.7" stroke-width="1.82"/>
<path d="M439.8,802.2 L441.9,817.7 L446.5,844.7 Q450,849.5 454.7,850 L462.5,847.3" stroke-width="1.82"/>
<path d="M459.4,812.5 L465,811.2 L469,821.5 L499.8,840.9 L499.8,846 L493.4,850 L490.8,857.6 Q488,863 483,864 L470.2,861.5 L465,855 L465,835.7 L461.2,825.4 Z" stroke-width="1.82"/>
<line x1="465.0" y1="835.7" x2="465.0" y2="855.0" stroke-width="1.56" stroke-dasharray="3 2" stroke-linecap="butt"/>
<text x="456.8" y="844" font-size="10.5" text-anchor="middle" font-weight="normal">C</text>
<text x="478" y="857.8" font-size="10.5" text-anchor="middle" font-weight="normal">C</text>
<line x1="465.0" y1="866.6" x2="465.0" y2="896.3" stroke-dasharray="9 5" stroke-linecap="butt"/>
<path d="M386.7,867.0 L381.7,866.8 L377.6,871.1 L377.8,877.1 L382.7,882.6 L388.2,884.6" stroke-width="2.60" fill="#fff"/>
<path d="M382.7,868.1 Q386.2,869.6 385.4,876.6 Q385.2,880.6 387.7,883.6 L383.2,881.6 L381.2,874.6 Z" stroke-width="1.30" fill="#000"/>
<ellipse cx="390.4" cy="876.2" rx="5.9" ry="7.5" stroke-width="2.60" fill="#fff"/>
<text x="390.6" y="879.9" font-size="10" text-anchor="middle">C</text>
<path d="M108.7,925.9 L103.7,925.7 L99.6,930.0 L99.8,936.0 L104.7,941.5 L110.2,943.5" stroke-width="2.60" fill="#fff"/>
<path d="M104.7,927.0 Q108.2,928.5 107.4,935.5 Q107.2,939.5 109.7,942.5 L105.2,940.5 L103.2,933.5 Z" stroke-width="1.30" fill="#000"/>
<ellipse cx="112.4" cy="935.1" rx="5.9" ry="7.5" stroke-width="2.60" fill="#fff"/>
<text x="112.6" y="938.8" font-size="10" text-anchor="middle">C</text>
<line x1="400.0" y1="883.3" x2="439.0" y2="904.0" stroke-dasharray="9 5" stroke-linecap="butt"/>
<path d="M188.1,966 L203,972 M176.5,991.7 L197.2,1005.2" stroke-width="2.08"/>
<path d="M188.1,966 Q176,969 174.6,982.5 Q174.3,988 176.5,991.7" stroke-width="2.08"/>
<ellipse cx="204.9" cy="989.3" rx="12.4" ry="17.0" stroke-width="2.34" transform="rotate(-24 204.9 989.3)"/>
<path d="M199.5,976 Q192.5,984 194,995 Q195.5,1001.5 200,1004.5" stroke-width="2.47"/>
<path d="M203,972 Q214,969.5 226,963.5 Q229.5,961 233,961.8 L353.5,937.3" stroke-width="2.08"/>
<path d="M219.5,992 L445,948.8 L473.3,938.9" stroke-width="2.08"/>
<path d="M227,964.5 Q231.5,973 229,983 M238,967 Q242,975 239.5,984" stroke-width="1.56"/>
<path d="M232,961.8 Q236,964 236.5,968" stroke-width="1.56"/>
<path d="M253.2,955.5 Q254.5,946 267,945 Q277.5,945.6 281,951" stroke-width="1.95"/>
<path d="M262,951.3 L272,949.8 M266,948 L268,952.5" stroke-width="1.56"/>
<path d="M319,940.5 L319,955 L315,956 L315.5,961.5 L322,966 L326,965 L326.5,940" stroke-width="1.95"/>
<path d="M329,939.5 L329.5,960 L338.5,958 L341,955.5 L341,937.3 L330,939.3" stroke-width="2.21"/>
<path d="M333,942 L333.3,956 M336.5,941.5 L336.8,955" stroke-width="1.56"/>
<path d="M331.5,944.5 L338,943.5 M331.5,949.5 L338,948.5" stroke-width="1.43"/>
<ellipse cx="388.5" cy="909.8" rx="20.8" ry="8.6" stroke-width="1.95" transform="rotate(-3 388.5 909.8)"/>
<ellipse cx="387.0" cy="910.2" rx="8.6" ry="3.2" stroke-width="1.95" transform="rotate(-5 387.0 910.2)"/>
<path d="M382,911 L392,909.5" stroke-width="1.56"/>
<path d="M368.4,911.5 Q362,917 357,927.5 M409.5,909.5 Q417,915 422.2,924.7" stroke-width="1.95"/>
<path d="M357,927.5 Q372,938.5 390,937.5 Q410,936 422.2,924.7" stroke-width="1.95"/>
<path d="M364,917.5 Q380,927.5 397,925.5 Q410,924 415.5,917" stroke-width="1.56"/>
<path d="M357,927.5 L354.2,938.9 L361.3,951.6 L368.4,957.3 L375.4,950.2 Q396,942.5 416.6,940.3 L430.7,948.8 L429.3,927.5 L422.2,924.7" stroke-width="1.95"/>
<path d="M416.5,917 Q421,921 420.5,927 M422,919 Q426,923 425.5,929" stroke-width="2.34"/>
<path d="M429.3,926 L439.5,924.8" stroke-width="1.82"/>
<path d="M433.5,927 Q437,936 434.5,947 M438.5,926.5 Q442.5,936 440,946.3" stroke-width="1.69"/>
<path d="M453.4,897.8 Q442,902 440.3,916.2 Q440,932 446.5,943" stroke-width="2.08"/>
<path d="M453.4,897.8 L464.8,897.8 Q474,900 479.5,907" stroke-width="2.08"/>
<path d="M449,903 Q445,912 446,927 Q447,937 451.5,943.5" stroke-width="1.56"/>
<ellipse cx="467.8" cy="921.0" rx="12.2" ry="16.6" stroke-width="2.34" transform="rotate(-14 467.8 921.0)"/>
<ellipse cx="468.8" cy="922.0" rx="9.6" ry="13.8" stroke-width="1.69" transform="rotate(-14 468.8 922.0)"/>
<ellipse cx="460.0" cy="901.4" rx="4.6" ry="2.6" stroke-width="1.95" transform="rotate(-15 460.0 901.4)"/>
<line x1="480.9" y1="916.2" x2="503.0" y2="937.5" stroke-width="1.95"/>
<line x1="476.0" y1="938.9" x2="510.0" y2="948.8" stroke-width="1.95"/>
<line x1="486.0" y1="929.0" x2="501.5" y2="941.5" stroke-width="1.43"/>
<path d="M503,937.5 L510,930.4 Q515,926 521.5,925.4 Q531,926 534.2,931.8 Q535,936 532.8,938.9 L515.8,946 L510,948.8" stroke-width="1.95"/>
<ellipse cx="521.5" cy="934.2" rx="10.0" ry="4.8" stroke-width="2.60" transform="rotate(-12 521.5 934.2)"/>
<path d="M514,936 L520,931.5 L528,932 M517,938.5 L527,936.5" stroke-width="1.56"/>
<path d="M147,942 L164.5,951 M136.6,967.2 L151,974.5" stroke-width="2.08"/>
<path d="M147,942 Q135,944 132.8,955 Q132.5,962.5 136.6,967.2" stroke-width="2.08"/>
<ellipse cx="157.2" cy="961.8" rx="9.8" ry="12.8" stroke-width="2.47" transform="rotate(-20 157.2 961.8)"/>
<path d="M150.5,953 Q146,961 148.5,969 Q150,972.5 153,974" stroke-width="3.38"/>
<ellipse cx="157.8" cy="962.4" rx="5.8" ry="8.4" stroke-width="1.95" transform="rotate(-20 157.8 962.4)"/>
<ellipse cx="158.2" cy="963.0" rx="2.3" ry="3.3" stroke-width="1.95" transform="rotate(-20 158.2 963.0)"/>
<path d="M154.5,957 L157,960.5 M160.5,965 L162.5,968" stroke-width="1.56"/>
<path d="M536.0,945.0 L553.5,954.0 M525.6,970.2 L540.0,977.5" stroke-width="2.08"/>
<path d="M536.0,945.0 Q524.0,947.0 521.8,958.0 Q521.5,965.5 525.6,970.2" stroke-width="2.08"/>
<ellipse cx="546.2" cy="964.8" rx="9.8" ry="12.8" stroke-width="2.47" transform="rotate(-20 546.2 964.8)"/>
<path d="M539.5,956.0 Q535.0,964.0 537.5,972.0 Q539.0,975.5 542.0,977.0" stroke-width="3.38"/>
<ellipse cx="546.8" cy="965.4" rx="5.8" ry="8.4" stroke-width="1.95" transform="rotate(-20 546.8 965.4)"/>
<ellipse cx="547.2" cy="966.0" rx="2.3" ry="3.3" stroke-width="1.95" transform="rotate(-20 547.2 966.0)"/>
<path d="M543.5,960.0 L546.0,963.5 M549.5,968.0 L551.5,971.0" stroke-width="1.56"/>
<line x1="229.5" y1="1002.0" x2="262.0" y2="1023.0" stroke-width="1.95"/>
<line x1="226.5" y1="1006.8" x2="259.5" y2="1028.5" stroke-width="1.95"/>
<path d="M229.5,1002 Q226.2,1003.5 226.5,1006.8" stroke-width="1.82"/>
<line x1="231.0" y1="1003.0" x2="228.4" y2="1007.6" stroke-width="1.56"/>
<line x1="234.2" y1="1005.0" x2="231.6" y2="1009.6" stroke-width="1.56"/>
<line x1="237.4" y1="1007.1" x2="234.8" y2="1011.7" stroke-width="1.56"/>
<line x1="240.6" y1="1009.1" x2="238.0" y2="1013.8" stroke-width="1.56"/>
<line x1="243.8" y1="1011.2" x2="241.2" y2="1015.8" stroke-width="1.56"/>
<path d="M262.5,1021.5 L268.5,1021 L272.8,1025.5 L272,1033 L266,1036.5 L260.5,1034 L259,1027.5 Z" stroke-width="2.21"/>
<path d="M265.5,1026.5 L268.5,1030 M266,1036.5 L265,1029" stroke-width="1.43"/>
<line x1="565.3" y1="972.2" x2="598.3" y2="989.7" stroke-width="1.95"/>
<line x1="562.7" y1="978.9" x2="594.7" y2="995.9" stroke-width="1.95"/>
<path d="M565.3,972.2 Q560.8,973.5 562.7,978.9" stroke-width="1.95"/>
<line x1="566.8" y1="973.3" x2="564.8" y2="979.3" stroke-width="1.69"/>
<line x1="569.8" y1="974.9" x2="567.8" y2="980.9" stroke-width="1.69"/>
<line x1="572.8" y1="976.5" x2="570.8" y2="982.5" stroke-width="1.69"/>
<line x1="575.8" y1="978.1" x2="573.8" y2="984.1" stroke-width="1.69"/>
<path d="M598.3,989.7 L605.5,984.6 L608.1,977.4 L609.6,975.3 L617.4,979.4 L614.3,988.7 L615.3,998 L610.7,1006.2 L602.4,1011.4 L595.2,1008.3 L592.6,1002.1 L594.7,995.9 Z" stroke-width="2.21"/>
<path d="M600,991.5 L607.3,986 L610.5,978" stroke-width="1.43" stroke-dasharray="1.5 1.2" stroke-linecap="butt"/>
<ellipse cx="606.3" cy="1000.0" rx="5.2" ry="6.4" stroke-width="2.47" transform="rotate(-15 606.3 1000.0)"/>
<path d="M597,997.5 Q596,1004 602,1008.5" stroke-width="1.82"/>
<path d="M601,993 L607.5,991.5 L612,994.5" stroke-width="1.56"/>
<path d="M604.5,997.5 L605,1003 M604.5,997.5 Q608.5,998 608,1001.5" stroke-width="1.43"/>
</g>
</svg>
</body></html>
